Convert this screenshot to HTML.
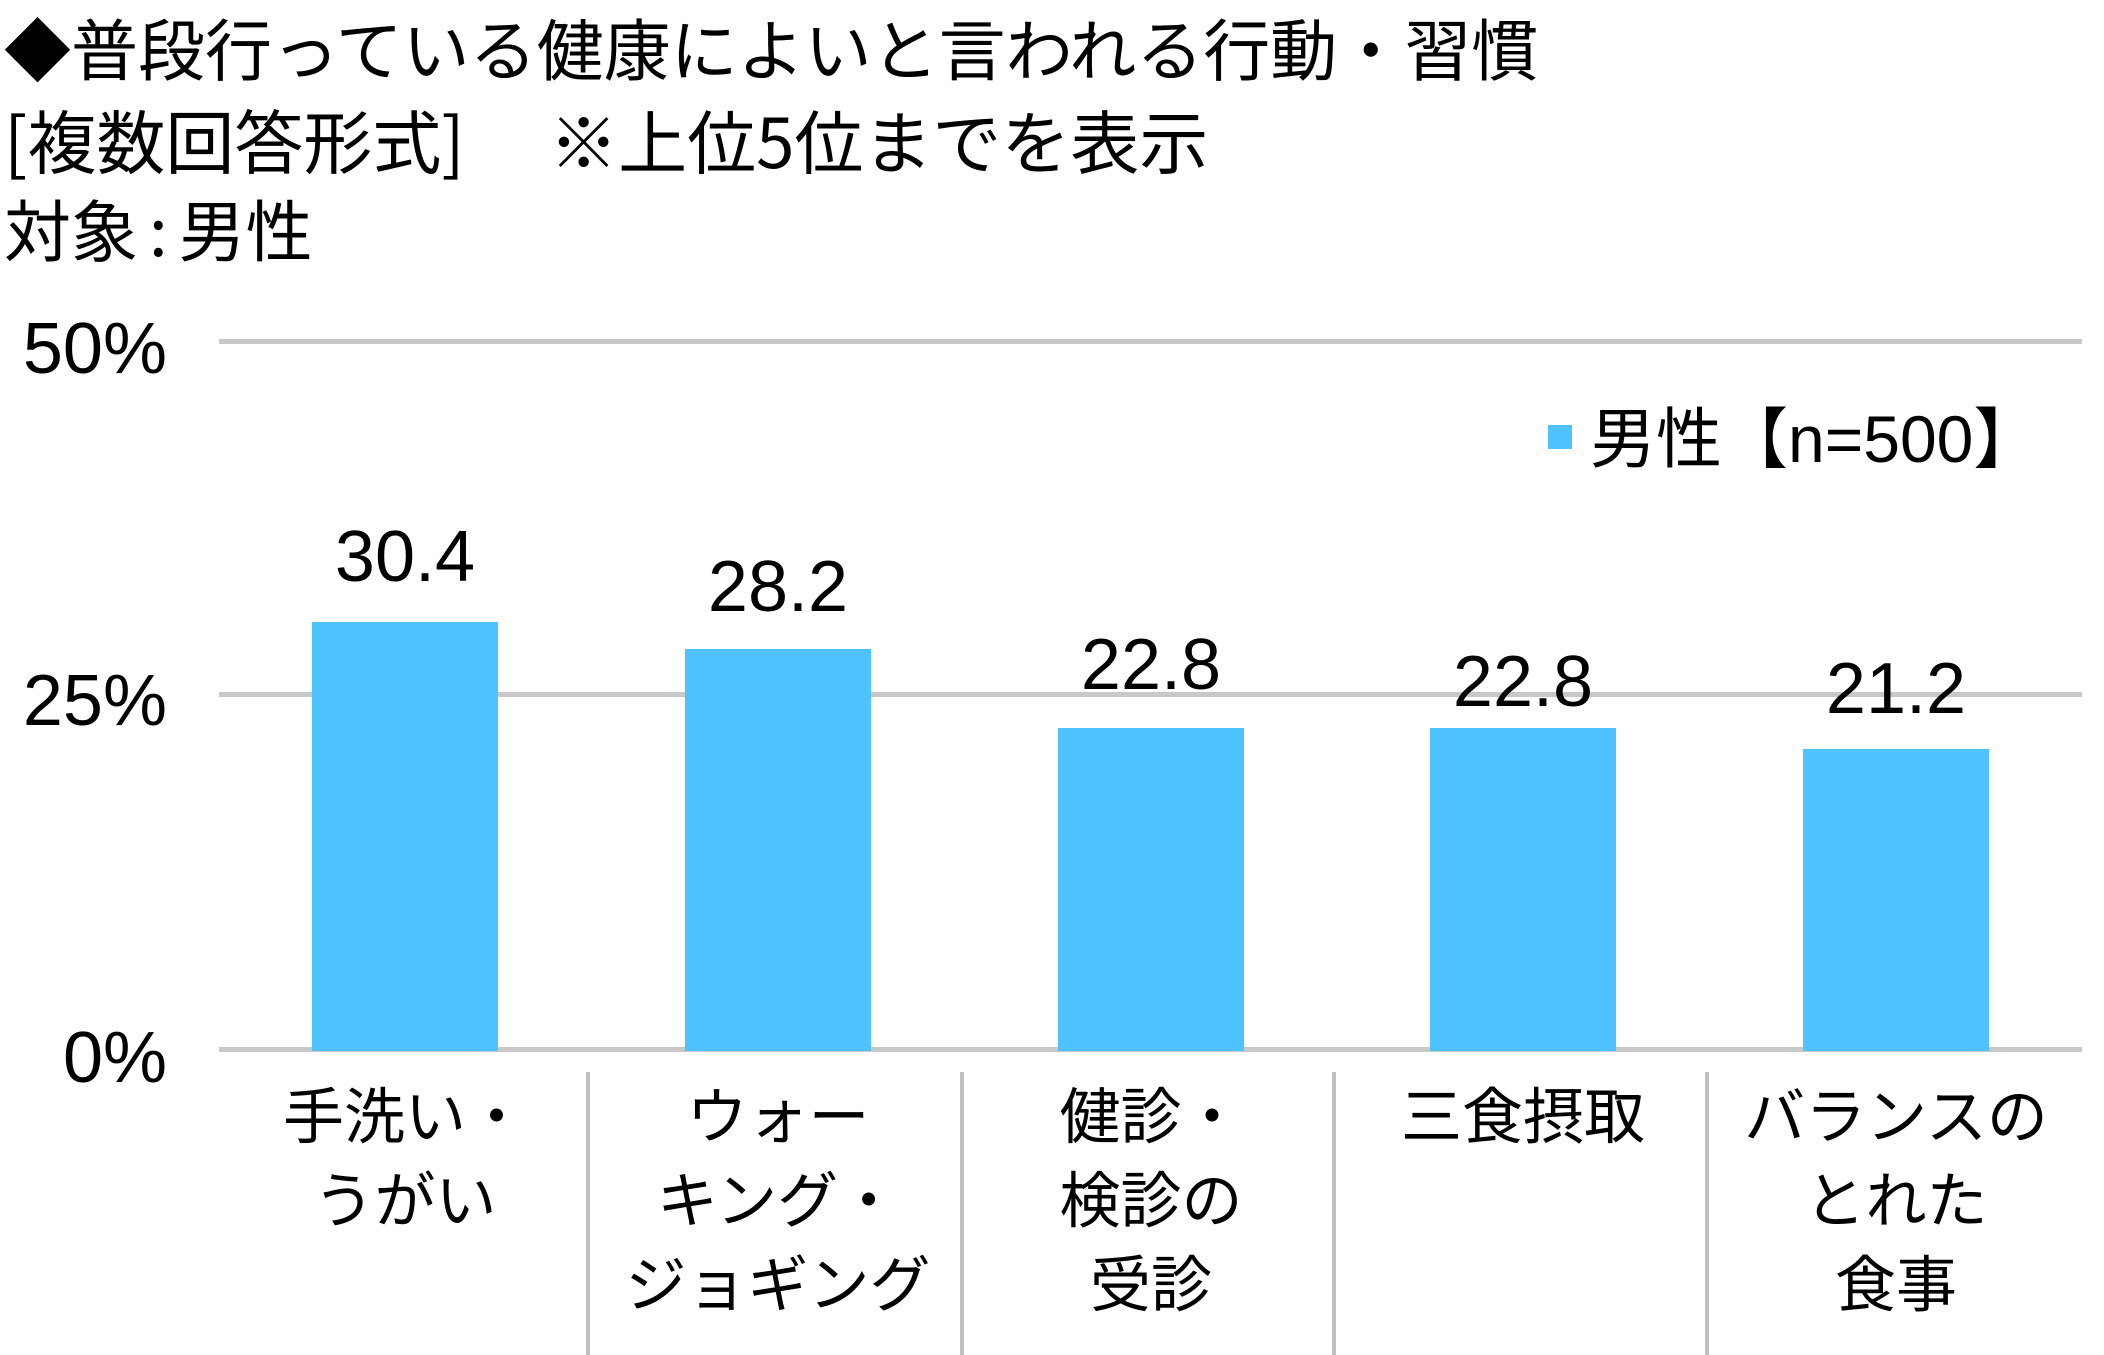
<!DOCTYPE html>
<html><head><meta charset="utf-8"><style>
body{margin:0;width:2104px;height:1355px;background:#fff;position:relative;overflow:hidden;font-family:"Liberation Sans","Noto Sans CJK JP",sans-serif;color:#000}
.a{position:absolute;white-space:nowrap}
.t{font-size:67px;line-height:80px;left:4px;font-family:"Noto Sans CJK JP",sans-serif}
.g{position:absolute;left:219px;width:1863px;height:5px;background:#c8c8c8}
.y{position:absolute;right:1937px;font-size:72px;line-height:80px;text-align:right}
.b{position:absolute;width:186px;background:#4fc3ff;bottom:304px}
.v{position:absolute;font-size:72px;width:300px;text-align:center;line-height:72px}
.d{position:absolute;width:4px;top:1072px;height:283px;background:#bfbfbf}
.c{position:absolute;top:1070px;width:360px;text-align:center;font-size:61px;line-height:84px;font-family:"Noto Sans CJK JP",sans-serif}
</style></head><body>
<div class="a t" style="top:7px">◆普段行っている健康によいと言われる行動・習慣</div>
<div class="a t" style="top:98px;font-size:69px">[複数回答形式]　 ※上位5位までを表示</div>
<div class="a t" style="top:188px">対象<span style="padding:0 11px">:</span>男性</div>

<div class="g" style="top:339px"></div>
<div class="g" style="top:692px"></div>
<div class="g" style="top:1047px"></div>
<div class="y" style="top:309px">50%</div>
<div class="y" style="top:661px">25%</div>
<div class="y" style="top:1018px">0%</div>

<div class="a" style="left:1548px;top:425px;width:24px;height:24px;background:#4fc3ff"></div>
<div class="a" style="left:1590px;top:399px;font-size:66px;line-height:80px">男性【n=500】</div>

<div class="b" style="left:312px;top:622px"></div>
<div class="b" style="left:685px;top:649px"></div>
<div class="b" style="left:1058px;top:728px"></div>
<div class="b" style="left:1430px;top:728px"></div>
<div class="b" style="left:1803px;top:749px"></div>

<div class="v" style="left:255px;top:521px">30.4</div>
<div class="v" style="left:628px;top:551px">28.2</div>
<div class="v" style="left:1001px;top:629px">22.8</div>
<div class="v" style="left:1373px;top:646px">22.8</div>
<div class="v" style="left:1746px;top:653px">21.2</div>

<div class="d" style="left:586px"></div>
<div class="d" style="left:960px"></div>
<div class="d" style="left:1332px"></div>
<div class="d" style="left:1705px"></div>

<div class="c" style="left:225px">手洗い・<br>うがい</div>
<div class="c" style="left:598px">ウォー<br>キング・<br>ジョギング</div>
<div class="c" style="left:971px">健診・<br>検診の<br>受診</div>
<div class="c" style="left:1343px">三食摂取</div>
<div class="c" style="left:1716px">バランスの<br>とれた<br>食事</div>
</body></html>
